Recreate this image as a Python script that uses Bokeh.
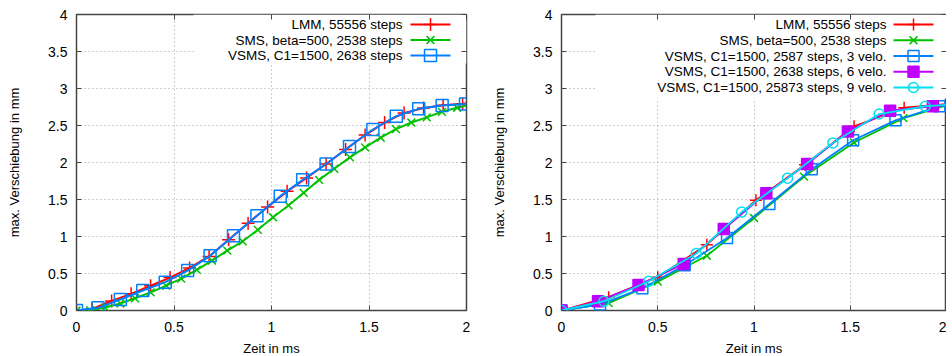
from bokeh.plotting import figure
from bokeh.models import (Range1d, LinearAxis, FixedTicker, BoxAnnotation, Label,
                          CustomJSTickFormatter)
from bokeh.layouts import row
from bokeh.embed import file_html
from bokeh.resources import INLINE

# ---------------- data ----------------
X_TICKS = [0, 0.5, 1, 1.5, 2]
Y_TICKS = [0, 0.5, 1, 1.5, 2, 2.5, 3, 3.5, 4]
X_LABEL = "Zeit in ms"
Y_LABEL = "max. Verschiebung in mm"
T_END = 2.0

# left panel
l_lmm_t = [0, 0.08, 0.18, 0.28, 0.38, 0.48, 0.58, 0.68, 0.78, 0.88, 0.98,
           1.08, 1.18, 1.28, 1.38, 1.48, 1.58, 1.68, 1.78, 1.88, 1.98]
l_lmm_y = [0, 0.02, 0.13, 0.225, 0.335, 0.445, 0.575, 0.73, 0.955, 1.18, 1.40,
           1.61, 1.79, 1.98, 2.175, 2.37, 2.54, 2.67, 2.735, 2.775, 2.795]
l_lmm_end = 2.80

l_sms_t = [0, 0.07, 0.147, 0.225, 0.30, 0.38, 0.46, 0.537, 0.617, 0.695, 0.773,
           0.852, 0.93, 1.008, 1.087, 1.165, 1.244, 1.322, 1.402, 1.48, 1.56,
           1.638, 1.717, 1.796, 1.874, 1.952]
l_sms_y = [0, 0.005, 0.04, 0.095, 0.165, 0.245, 0.335, 0.43, 0.55, 0.675, 0.81,
           0.935, 1.09, 1.26, 1.42, 1.59, 1.765, 1.915, 2.07, 2.205, 2.335,
           2.45, 2.54, 2.61, 2.685, 2.74]
l_sms_end = 2.77

l_vsms_t = [0, 0.11, 0.225, 0.34, 0.455, 0.57, 0.685, 0.805, 0.925, 1.045,
            1.16, 1.28, 1.40, 1.52, 1.64, 1.755, 1.875, 1.995]
l_vsms_y = [0, 0.036, 0.149, 0.27, 0.383, 0.54, 0.739, 1.01, 1.28, 1.545,
            1.766, 1.98, 2.216, 2.446, 2.626, 2.725, 2.77, 2.79]
l_vsms_end = 2.79

l_labels = ["LMM, 55556 steps", "SMS, beta=500, 2538 steps",
            "VSMS, C1=1500, 2638 steps"]

# right panel
r_lmm_t = [0, 0.245, 0.50, 0.755, 1.01, 1.265, 1.52, 1.78]
r_lmm_y = [0, 0.18, 0.45, 0.89, 1.49, 1.97, 2.49, 2.74]
r_lmm_end = 2.79

r_sms_t = [0, 0.245, 0.50, 0.755, 1.0, 1.26, 1.52, 1.776]
r_sms_y = [0, 0.10, 0.39, 0.74, 1.25, 1.81, 2.27, 2.60]
r_sms_end = 2.77

r_v3_t = [0, 0.20, 0.42, 0.64, 0.86, 1.08, 1.30, 1.515, 1.735, 1.963]
r_v3_y = [0, 0.08, 0.30, 0.61, 0.98, 1.44, 1.91, 2.30, 2.57, 2.76]
r_v3_end = 2.77

r_v6_t = [0, 0.19, 0.40, 0.635, 0.843, 1.064, 1.276, 1.488, 1.707, 1.929]
r_v6_y = [0, 0.125, 0.345, 0.63, 1.10, 1.585, 1.98, 2.42, 2.70, 2.76]
r_v6_end = 2.78

r_v9_t = [0, 0.22, 0.453, 0.70, 0.936, 1.174, 1.41, 1.65, 1.89]
r_v9_y = [0, 0.125, 0.395, 0.77, 1.33, 1.787, 2.265, 2.655, 2.76]
r_v9_end = 2.78

r_labels = ["LMM, 55556 steps", "SMS, beta=500, 2538 steps",
            "VSMS, C1=1500, 2587 steps, 3 velo.",
            "VSMS, C1=1500, 2638 steps, 6 velo.",
            "VSMS, C1=1500, 25873 steps, 9 velo."]

# ---------------- style ----------------
FONT = "Liberation Sans"
FRAME_H = 296
RED, GREEN, BLUE, PURPLE, CYAN = "#ff0000", "#00c000", "#0080ff", "#c000ff", "#00e0f0"
FRAME_COL = "#444444"


def make_fig(frame_w, border_left, border_right):
    p = figure(frame_width=frame_w, frame_height=FRAME_H,
               x_range=Range1d(0, 2), y_range=Range1d(0, 4),
               output_backend="svg", toolbar_location=None,
               min_border_left=border_left, min_border_right=border_right,
               min_border_top=14, min_border_bottom=0)
    p.outline_line_color = FRAME_COL
    p.outline_line_width = 1.5
    for ax, ticks, lab in ((p.xaxis[0], X_TICKS, X_LABEL),
                           (p.yaxis[0], Y_TICKS, Y_LABEL)):
        ax.ticker = FixedTicker(ticks=ticks)
        ax.formatter = CustomJSTickFormatter(code="return String(tick);")
        ax.axis_label = lab
        ax.axis_line_color = None
        ax.major_tick_in = 5
        ax.major_tick_out = 0
        ax.major_tick_line_color = FRAME_COL
        ax.minor_tick_in = 0
        ax.minor_tick_out = 0
        ax.major_label_text_font = FONT
        ax.major_label_text_font_size = "14px"
        ax.major_label_text_color = "#000000"
        ax.axis_label_text_font = FONT
        ax.axis_label_text_font_size = "13px"
        ax.axis_label_text_font_style = "normal"
        ax.axis_label_text_color = "#000000"
    p.xaxis[0].major_label_standoff = 11
    p.xaxis[0].axis_label_standoff = 6
    p.yaxis[0].major_label_standoff = 9
    p.yaxis[0].axis_label_standoff = 23
    p.xgrid.ticker = FixedTicker(ticks=X_TICKS)
    p.ygrid.ticker = FixedTicker(ticks=Y_TICKS)
    p.grid.grid_line_color = "#a0a0a0"
    p.grid.grid_line_dash = "1 3"
    p.grid.grid_line_width = 1
    for ticks, loc in ((X_TICKS, "above"), (Y_TICKS, "right")):
        ax = LinearAxis(ticker=FixedTicker(ticks=ticks),
                        formatter=CustomJSTickFormatter(code="return '';"),
                        major_tick_in=5, major_tick_out=0,
                        minor_tick_in=0, minor_tick_out=0,
                        axis_line_color=None, major_label_standoff=0,
                        major_tick_line_color=FRAME_COL)
        p.add_layout(ax, loc)
    return p


def series(p, t, y, y_end, style):
    color, marker, size, fill, lw = style
    p.line(list(t) + [T_END], list(y) + [y_end], line_color=color, line_width=lw)
    p.scatter(t, y, marker=marker, size=size, line_color=color, line_width=1.5,
              fill_color=color if fill else None)


def add_key(p, frame_w, styles, labels, pitch, text_off, glyph_off, box_left_off, box_h):
    """gnuplot-style key: right-aligned text, then a line+marker sample."""
    sx = 2 / frame_w          # data units per pixel (x)
    sy = 4 / FRAME_H          # data units per pixel (y)
    p.add_layout(BoxAnnotation(left=2 - box_left_off * sx, right=2,
                               bottom=4 - box_h * sy, top=4,
                               fill_color="white", fill_alpha=1, line_color=None,
                               level="underlay"))
    for i, (txt, st) in enumerate(zip(labels, styles)):
        color, marker, size, fill, lw = st
        yk = 4 - (10 + pitch * i) * sy
        x0 = 2 - (glyph_off + 40) * sx
        x1 = 2 - glyph_off * sx
        p.segment(x0=[x0], y0=[yk], x1=[x1], y1=[yk], line_color=color, line_width=lw)
        p.scatter([(x0 + x1) / 2], [yk], marker=marker, size=size, line_color=color,
                  line_width=1.5, fill_color=color if fill else None)
        p.add_layout(Label(x=2 - text_off * sx, y=yk, text=txt,
                           text_align="right", text_baseline="middle",
                           text_font=FONT, text_font_size="13.5px",
                           text_color="#000000"))


# left figure
LW = 390
pl = make_fig(LW, 76, 23)
l_styles = [(RED, "cross", 13, False, 2), (GREEN, "x", 11, False, 2),
            (BLUE, "square", 12, False, 2)]
for (t, y, e), st in zip([(l_lmm_t, l_lmm_y, l_lmm_end), (l_sms_t, l_sms_y, l_sms_end),
                          (l_vsms_t, l_vsms_y, l_vsms_end)], l_styles):
    series(pl, t, y, e, st)
add_key(pl, LW, l_styles, l_labels, 15.5, 64, 16, 273, 49)

# right figure
RW = 385
pr = make_fig(RW, 72, 0)
r_styles = [(RED, "cross", 12, False, 1.8), (GREEN, "x", 11, False, 1.8),
            (BLUE, "square", 11, False, 1.8), (PURPLE, "square", 11, True, 1.8),
            (CYAN, "circle", 10, False, 1.8)]
for (t, y, e), st in zip([(r_lmm_t, r_lmm_y, r_lmm_end), (r_sms_t, r_sms_y, r_sms_end),
                          (r_v3_t, r_v3_y, r_v3_end), (r_v6_t, r_v6_y, r_v6_end),
                          (r_v9_t, r_v9_y, r_v9_end)], r_styles):
    series(pr, t, y, e, st)
add_key(pr, RW, r_styles, r_labels, 15.75, 60, 13, 351, 84)

layout = row(pl, pr)
open("out.html", "w").write(file_html(layout, INLINE))
